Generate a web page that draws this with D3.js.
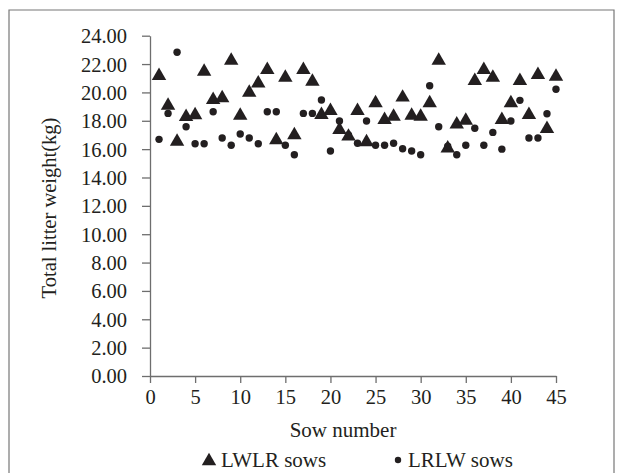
<!DOCTYPE html>
<html><head><meta charset="utf-8">
<script src="https://cdn.jsdelivr.net/npm/d3@7"></script>
<style>body{margin:0;background:#fff}svg{display:block}text{font-family:"Liberation Serif","Times New Roman",serif;fill:#231f20}</style>
</head><body><svg id="c" width="622" height="473"></svg>
<script>
const sows = d3.range(1, 46);
const lwlr = [21.28,19.18,16.64,18.38,18.5,21.58,19.58,19.70,22.35,18.48,20.1,20.75,21.7,16.74,21.16,17.1,21.7,20.87,18.52,18.8,17.47,17.0,18.8,16.6,19.35,18.17,18.4,19.75,18.48,18.4,19.35,22.35,16.17,17.86,18.12,20.92,21.7,21.16,18.17,19.35,20.92,18.52,21.35,17.54,21.23];
const lrlw = [16.69,18.52,22.83,17.58,16.38,16.38,18.64,16.78,16.27,17.07,16.78,16.38,18.64,18.64,16.27,15.6,18.52,18.52,19.46,15.87,17.98,17.0,16.41,17.98,16.27,16.27,16.41,16.03,15.87,15.6,20.47,17.58,16.2,15.6,16.27,17.47,16.27,17.18,16.0,17.98,19.44,16.78,16.78,18.5,20.22];
const xTicks = [0,5,10,15,20,25,30,35,40,45];
const yTicks = [0,2,4,6,8,10,12,14,16,18,20,22,24];
const seriesNames = ["LWLR sows","LRLW sows"];

const svg = d3.select("#c");
const x = d3.scaleLinear().domain([0,45]).range([150,556]);
const y = d3.scaleLinear().domain([0,24]).range([376,35.7]);
const axisColor = "#6e6e6e";

// frame
svg.append("path").attr("d","M9,473V10H614V473").attr("fill","none").attr("stroke","#777").attr("stroke-width",1.2);

const yAx = svg.append("g").attr("transform","translate(150,0)")
  .call(d3.axisLeft(y).tickValues(yTicks).tickFormat(d3.format(".2f")).tickSize(8).tickSizeOuter(0));
const xAx = svg.append("g").attr("transform","translate(0,376)")
  .call(d3.axisBottom(x).tickValues(xTicks).tickSize(7).tickSizeOuter(0));
[yAx,xAx].forEach(g=>{
  g.selectAll("path,line").attr("stroke",axisColor).attr("stroke-width",1.3);
  g.selectAll("text").style("font-size","20.5px").attr("fill","#231f20");
});
yAx.selectAll("text").attr("x",-23).attr("dy","0.34em");
xAx.selectAll("text").attr("y",13);

svg.append("text").attr("transform","translate(56,208) rotate(-90)").attr("text-anchor","middle")
  .style("font-size","20.5px").text("Total litter weight(kg)");
svg.append("text").attr("x",343).attr("y",437).attr("text-anchor","middle").style("font-size","21px").text("Sow number");

const tri = d3.symbol().type(d3.symbolTriangle).size(90);
svg.append("g").selectAll("path").data(sows).join("path")
  .attr("d", tri).attr("transform",(d,i)=>`translate(${x(d)},${y(lwlr[i])+1.5})`).attr("fill","#231f20");
svg.append("g").selectAll("circle").data(sows).join("circle")
  .attr("cx",d=>x(d)).attr("cy",(d,i)=>y(lrlw[i])).attr("r",3.7).attr("fill","#231f20");

// legend
const lg = svg.append("g");
lg.append("path").attr("d",tri).attr("transform","translate(209,461)").attr("fill","#231f20");
lg.append("text").attr("x",221).attr("y",467).style("font-size","21px").text(seriesNames[0]);
lg.append("circle").attr("cx",398).attr("cy",460).attr("r",3.2).attr("fill","#231f20");
lg.append("text").attr("x",408).attr("y",467).style("font-size","21px").text(seriesNames[1]);
</script></body></html>
